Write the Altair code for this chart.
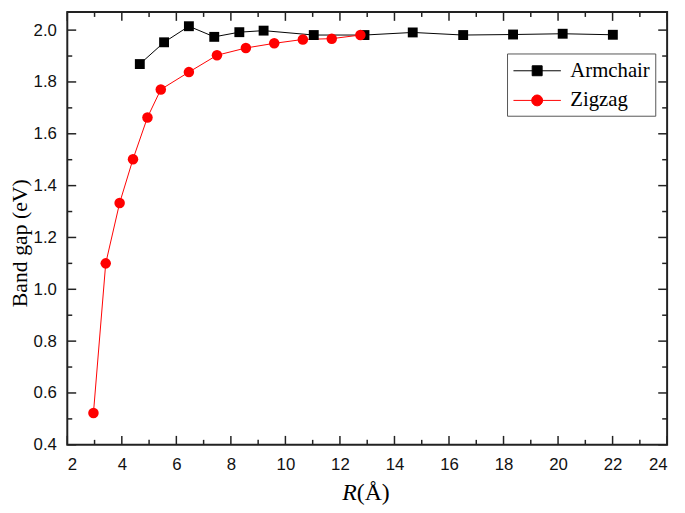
import altair as alt
import pandas as pd

# ---- data ----
armchair_r = [4.66, 5.55, 6.46, 7.39, 8.31, 9.20, 11.04, 12.90, 14.67, 16.52, 18.35, 20.17, 22.01]
armchair_gap = [1.869, 1.953, 2.015, 1.974, 1.992, 1.998, 1.981, 1.981, 1.991, 1.981, 1.983, 1.986, 1.982]
zigzag_r = [2.96, 3.41, 3.92, 4.41, 4.94, 5.43, 6.46, 7.49, 8.55, 9.59, 10.64, 11.70, 12.75]
zigzag_gap = [0.523, 1.100, 1.333, 1.502, 1.663, 1.771, 1.838, 1.903, 1.931, 1.949, 1.964, 1.967, 1.981]
series_names = ["Armchair", "Zigzag"]
series_colors = ["#000000", "#ff0000"]
x_major = [2, 4, 6, 8, 10, 12, 14, 16, 18, 20, 22, 24]
x_minor = [3, 5, 7, 9, 11, 13, 15, 17, 19, 21, 23]
y_major = [0.4, 0.6, 0.8, 1.0, 1.2, 1.4, 1.6, 1.8, 2.0]
y_minor = [0.5, 0.7, 0.9, 1.1, 1.3, 1.5, 1.7, 1.9]
x_title_parts = ["R", "(Å)"]
y_title = "Band gap (eV)"

W, H = 607, 438
df = pd.DataFrame({
    "r": armchair_r + zigzag_r,
    "gap": armchair_gap + zigzag_gap,
    "series": [series_names[0]] * len(armchair_r) + [series_names[1]] * len(zigzag_r),
})
df["idx"] = range(len(df))

xs = alt.Scale(domain=[2, 24], nice=False, zero=False)
ys = alt.Scale(domain=[0.4, 2.07], nice=False, zero=False)
cs = alt.Scale(domain=series_names, range=series_colors)

# legend glyphs: a line with the marker in its middle (1 unit = 12 px)
sq_path = "M-2,0H2M-0.42,-0.42H0.42V0.42H-0.42Z"
ci_path = "M-2,0H2M-0.46,0A0.46,0.46 0 1,0 0.46,0A0.46,0.46 0 1,0 -0.46,0Z"

x_axis = alt.Axis(values=x_major, format="d", title=None, labelFont="Liberation Sans",
                  labelFontSize=17, labelColor="#111", labelPadding=12,
                  grid=False, domain=False, ticks=False)
y_axis = alt.Axis(values=y_major, format=".1f", title=y_title, labelFont="Liberation Sans",
                  labelFontSize=17, labelColor="#111", labelPadding=11,
                  grid=False, domain=False, ticks=False,
                  titleFont="Liberation Serif", titleFontSize=22, titleFontWeight="normal",
                  titleColor="#000", titleX=-41, titleY=233.5, titleAngle=-90,
                  titleAlign="center", titleBaseline="alphabetic")

legend = alt.Legend(
    title=None, orient="none", legendX=445, legendY=42,
    labelFont="Liberation Serif", labelFontSize=21, labelColor="#000",
    strokeColor="#555", fillColor="white", padding=5, rowPadding=7,
    symbolSize=576, symbolStrokeWidth=1, symbolOffset=13, labelOffset=21,
    symbolType={"expr": "datum.value === 'Armchair' ? '" + sq_path + "' : '" + ci_path + "'"},
    symbolStrokeColor={"expr": "datum.value === 'Armchair' ? '#000000' : '#ff0000'"},
)

X = alt.X("r:Q", scale=xs, axis=x_axis)
Y = alt.Y("gap:Q", scale=ys, axis=y_axis)
C = alt.Color("series:N", scale=cs, legend=legend)

base = alt.Chart(df)
lines_a = base.transform_filter(alt.datum.series == series_names[0]).mark_line(
    strokeWidth=1).encode(x=X, y=Y, color=C, order="idx:Q")
lines_z = base.transform_filter(alt.datum.series == series_names[1]).mark_line(
    strokeWidth=1).encode(x=X, y=Y, color=C, order="idx:Q")
pts_a = base.transform_filter(alt.datum.series == series_names[0]).mark_point(
    filled=True, shape="square", size=100, opacity=1).encode(x=X, y=Y, color=C)
pts_z = base.transform_filter(alt.datum.series == series_names[1]).mark_point(
    filled=True, shape="circle", size=113, opacity=1).encode(x=X, y=Y, color=C)

def xticks(vals, length):
    d = pd.DataFrame({"v": vals})
    xe = alt.X("v:Q", scale=xs, axis=x_axis)
    bottom = alt.Chart(d).mark_rule(color="#222", strokeWidth=1.5).encode(
        x=xe, y=alt.value(H), y2=alt.value(H - length))
    top = alt.Chart(d).mark_rule(color="#222", strokeWidth=1.5).encode(
        x=xe, y=alt.value(0), y2=alt.value(length))
    return [bottom, top]

def yticks(vals, length):
    d = pd.DataFrame({"v": vals})
    ye = alt.Y("v:Q", scale=ys, axis=y_axis)
    left = alt.Chart(d).mark_rule(color="#222", strokeWidth=1.5).encode(
        y=ye, x=alt.value(0), x2=alt.value(length))
    right = alt.Chart(d).mark_rule(color="#222", strokeWidth=1.5).encode(
        y=ye, x=alt.value(W), x2=alt.value(W - length))
    return [left, right]

ticks = xticks(x_major, 9) + xticks(x_minor, 5) + yticks(y_major, 9) + yticks(y_minor, 5)

t_r = alt.Chart(pd.DataFrame({"t": [x_title_parts[0]]})).mark_text(
    font="Liberation Serif", fontSize=24, fontStyle="italic", align="right",
    baseline="alphabetic", color="#000").encode(
    text="t:N", x=alt.value(293), y=alt.value(494))
t_a = alt.Chart(pd.DataFrame({"t": [x_title_parts[1]]})).mark_text(
    font="Liberation Serif", fontSize=24, align="left",
    baseline="alphabetic", color="#000").encode(
    text="t:N", x=alt.value(293), y=alt.value(494))

chart = alt.layer(lines_a, lines_z, pts_a, pts_z, *ticks, t_r, t_a).properties(
    width=W, height=H,
    autosize=alt.AutoSizeParams(type="none"),
    padding={"left": 60, "top": 1, "right": 10, "bottom": 66},
).configure_view(stroke="#222", strokeWidth=2)

chart.save("out.html", embed_options={"renderer": "svg", "actions": False})
